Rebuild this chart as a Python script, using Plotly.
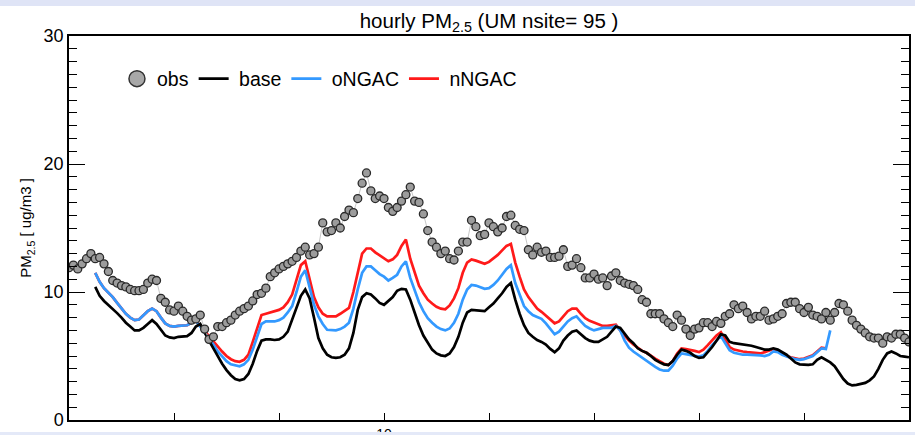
import plotly.graph_objects as go

# ---------------- data (hourly, hour 0 = day 7 00Z) ----------------
obs_start = 0
obs = [11.9, 12.1, 11.8, 12.2, 12.6, 13.0, 12.6, 12.7, 12.2, 11.6,
       10.9, 10.7, 10.5, 10.4, 10.2, 10.1, 10.1, 10.2, 10.7, 11.0,
       10.9, 9.5, 9.2, 8.6, 8.5, 8.9, 8.5, 8.1, 7.8, 7.9,
       8.2, 7.1, 6.3, 6.5, 7.3, 7.3, 7.6, 7.8, 8.2, 8.5,
       8.7, 8.9, 9.3, 9.8, 9.9, 10.3, 11.2, 11.5, 11.8, 12.0,
       12.2, 12.4, 12.7, 13.2, 13.5, 12.9, 13.0, 13.5, 15.4, 14.7,
       14.8, 15.4, 15.0, 15.9, 16.4, 16.2, 17.3, 18.5, 19.3, 17.9,
       17.3, 17.5, 17.3, 16.6, 16.3, 16.6, 17.1, 17.6, 18.2, 17.1,
       17.0, 16.1, 14.8, 13.9, 13.5, 13.0, 13.2, 12.6, 12.5, 13.2,
       13.9, 13.9, 15.6, 15.1, 14.4, 14.5, 15.4, 15.1, 14.7, 15.0,
       15.9, 16.0, 15.2, 14.9, 14.8, 13.3, 12.9, 13.5, 13.1, 13.2,
       12.7, 12.7, 12.8, 13.3, 12.0, 12.1, 12.6, 11.9, 11.1, 11.1,
       11.4, 11.0, 11.1, 10.5, 11.25, 11.5, 10.9, 10.7, 10.6, 10.5,
       10.2, 9.4, 9.2, 8.3, 8.3, 8.3, 7.9, 7.6, 7.3, 8.2,
       7.8, 7.1, 6.6, 7.1, 7.2, 7.6, 7.6, 7.3, 7.7, 7.55,
       8.1, 8.3, 9.0, 8.7, 8.9, 8.4, 7.9, 8.1, 8.1, 8.5,
       7.8, 7.9, 8.1, 8.3, 9.1, 9.2, 9.2, 8.7, 8.4, 8.8,
       8.2, 8.1, 7.9, 8.4, 7.8, 8.4, 9.1, 9.0, 8.5, 7.8,
       7.4, 7.1, 6.8, 6.5, 6.4, 6.4, 6.0, 6.5, 6.4, 6.7,
       6.7, 6.4, 6.1]

base_start = 6
base = [10.4, 9.7, 9.3, 9.0, 8.7, 8.35, 8.0, 7.6, 7.3, 7.0,
        7.0, 7.2, 7.5, 7.8, 7.5, 7.0, 6.6, 6.45, 6.4, 6.5,
        6.5, 6.55, 6.8, 7.3, 7.5, 6.8, 6.2, 5.6, 4.95, 4.4,
        3.9, 3.5, 3.2, 3.1, 3.2, 3.6, 4.4, 5.4, 6.2, 6.3,
        6.3, 6.25, 6.3, 6.5, 6.9, 7.8, 8.7, 9.7, 10.2, 9.5,
        8.0, 6.4, 5.6, 5.1, 4.9, 4.85, 4.9, 5.1, 5.6, 6.8,
        8.6, 9.6, 9.9, 9.8, 9.5, 9.15, 9.0, 9.3, 9.6, 10.1,
        10.25, 10.2, 9.4, 8.4, 7.4, 6.6, 6.0, 5.5, 5.2, 5.05,
        5.0, 5.2, 5.7, 6.5, 7.6, 8.4, 8.6, 8.55, 8.5, 8.5,
        8.8, 9.1, 9.5, 9.9, 10.4, 10.7, 9.4, 8.3, 7.4, 6.8,
        6.5, 6.25, 6.1, 5.9, 5.55, 5.3, 5.6, 6.2, 6.6, 6.9,
        7.0, 6.7, 6.4, 6.2, 6.1, 6.1, 6.3, 6.5, 6.9, 7.3,
        7.2, 6.7, 6.3, 6.0, 5.6, 5.4, 5.25, 5.0, 4.7, 4.5,
        4.35, 4.3, 4.6, 5.1, 5.5, 5.4, 5.25, 5.0, 4.85, 4.9,
        5.3, 5.7, 6.2, 6.7, 6.6, 6.1, 6.0, 5.95, 5.9, 5.9,
        5.8, 5.7, 5.6, 5.5, 5.5, 5.6, 5.5, 5.3, 5.1, 4.8,
        4.5, 4.35, 4.3, 4.3, 4.35, 4.7, 4.9, 4.7, 4.5, 4.2,
        3.7, 3.2, 2.85, 2.7, 2.75, 2.8, 2.9, 3.1, 3.4, 4.0,
        4.7, 5.2, 5.35, 5.2, 5.0, 4.95, 4.9]

ongac_start = 6
ongac = [11.5, 10.8, 10.3, 9.95, 9.6, 9.15, 8.75, 8.3, 8.0, 7.8,
         7.85, 8.15, 8.5, 8.7, 8.5, 8.0, 7.55, 7.35, 7.3, 7.35,
         7.35, 7.4, 7.6, 7.75, 7.3, 6.85, 6.4, 5.9, 5.35, 4.95,
         4.6, 4.35, 4.25, 4.2, 4.35, 4.7, 5.5, 6.5, 7.5, 7.7,
         7.7, 7.7, 7.8, 8.0, 8.4, 8.9, 10.0, 11.2, 11.7, 10.4,
         9.0, 8.1, 7.5, 7.05, 7.0, 7.0, 7.1, 7.3, 7.6, 8.7,
         10.2, 11.5, 12.0, 12.0, 11.7, 11.4, 11.2, 10.9, 11.1, 11.35,
         12.0, 12.4, 11.1, 10.2, 9.2, 8.5, 7.95, 7.6, 7.3, 7.1,
         7.0, 7.15, 7.6, 8.3, 9.4, 10.2, 10.55, 10.5, 10.4, 10.25,
         10.3, 10.55, 10.9, 11.35, 11.8, 12.1, 10.7, 9.8, 8.9, 8.5,
         8.2, 8.05, 7.9, 7.55, 7.1, 6.7, 6.9, 7.3, 7.7, 7.95,
         8.1, 7.7, 7.35, 7.15, 7.0, 7.1, 7.2, 7.2, 7.2, 7.35,
         7.0, 6.2, 5.65, 5.35, 5.1, 4.85, 4.6, 4.35, 4.15, 3.95,
         3.85, 3.85, 4.25, 4.8, 5.2, 5.15, 5.1, 5.0, 4.95, 5.05,
         5.4, 5.85, 6.2, 6.55, 6.0, 5.45, 5.25, 5.15, 5.1, 5.1,
         5.1, 5.1, 5.05, 5.0, 5.1, 5.35, 5.3, 5.1, 4.95, 4.85,
         4.75, 4.7, 4.75, 4.85, 5.0, 5.3, 5.6, 5.55, 7.0]

nngac_start = 6
nngac = [11.5, 10.8, 10.3, 9.95, 9.6, 9.15, 8.75, 8.3, 8.0, 7.8,
         7.85, 8.15, 8.5, 8.7, 8.5, 8.0, 7.55, 7.35, 7.3, 7.35,
         7.35, 7.4, 7.6, 7.75, 7.35, 6.95, 6.5, 6.1, 5.7, 5.35,
         5.0, 4.75, 4.6, 4.55, 4.7, 5.1, 6.1, 7.2, 8.2, 8.3,
         8.4, 8.5, 8.6, 8.8, 9.2, 9.8, 11.0, 12.1, 12.4, 11.0,
         9.6, 8.8, 8.3, 8.1, 8.1, 8.1, 8.3, 8.5, 8.75, 10.0,
         11.5, 13.0, 13.4, 13.4, 13.1, 12.85, 12.6, 12.4, 12.55, 12.9,
         13.6, 14.1, 12.6, 11.6, 10.5, 9.9, 9.4, 9.1, 8.85, 8.7,
         8.65, 8.95, 9.5, 10.3, 11.5, 12.3, 12.55, 12.45, 12.3, 12.2,
         12.35, 12.6, 12.9, 13.25, 13.6, 13.75, 12.3, 11.2, 10.2, 9.6,
         9.1, 8.7, 8.45, 8.15, 7.8, 7.55, 7.7, 8.1, 8.5, 8.7,
         8.7, 8.3, 7.95, 7.75, 7.6, 7.45, 7.35, 7.35, 7.4, 7.45,
         7.0, 6.6, 6.2, 5.9, 5.65, 5.4, 5.25, 5.0, 4.8, 4.6,
         4.4, 4.3, 4.6, 5.2, 5.6, 5.55, 5.5, 5.4, 5.3, 5.5,
         5.85, 6.25, 6.6, 6.85, 6.3, 5.7, 5.5, 5.4, 5.35, 5.3,
         5.25, 5.2, 5.2, 5.3, 5.45, 5.55, 5.4, 5.2, 5.0, 4.9,
         4.8, 4.75, 4.8, 4.9, 5.05, 5.35, 5.65, 5.6]

day_ticks = [0, 24, 48, 72, 96, 120, 144, 168, 192]
day_labels = ["", "", "", "10", "", "", "", "", ""]

FONT = "Liberation Sans, Arial, Helvetica, sans-serif"
NB = "\u00a0"


def hours(start, vals):
    return list(range(start, start + len(vals)))


fig = go.Figure()

fig.add_trace(go.Scatter(x=hours(nngac_start, nngac), y=nngac, mode="lines", name=NB + "nNGAC",
                         line=dict(color="#ff1a1a", width=2.7), legendrank=4))
fig.add_trace(go.Scatter(x=hours(ongac_start, ongac), y=ongac, mode="lines", name=NB + "oNGAC",
                         line=dict(color="#3399ff", width=2.7), legendrank=3))
fig.add_trace(go.Scatter(x=hours(base_start, base), y=base, mode="lines", name=NB + "base",
                         line=dict(color="black", width=2.7), legendrank=2))
fig.add_trace(go.Scatter(x=hours(obs_start, obs), y=obs, mode="lines+markers", name="obs",
                         showlegend=False,
                         line=dict(color="#c8c8c8", width=1),
                         marker=dict(size=8, color="#9c9c9c",
                                     line=dict(color="#2a2a2a", width=1.3))))
# legend-only entry for obs (larger symbol, as in the reference legend)
fig.add_trace(go.Scatter(x=[None], y=[None], mode="markers", name="obs",
                         marker=dict(size=16, color="#a8a8a8",
                                     line=dict(color="#333333", width=1.5)),
                         legendrank=1))

fig.update_layout(
    width=915, height=435,
    margin=dict(l=69, r=6, t=36, b=15, autoexpand=False),
    paper_bgcolor="white", plot_bgcolor="white",
    font=dict(family=FONT, color="black"),
    title=dict(text="hourly PM<sub>2.5</sub> (UM nsite= 95 )",
               x=489 / 915, xanchor="center", y=1 - 21 / 435, yanchor="middle",
               font=dict(size=20.5, family=FONT, color="black")),
    showlegend=True,
    legend=dict(orientation="h", x=0.0571, xanchor="left", y=0.888, yanchor="middle",
                bgcolor="rgba(0,0,0,0)", font=dict(size=19.5, family=FONT),
                itemwidth=30, tracegroupgap=0),
    xaxis=dict(range=[0, 192], tickvals=day_ticks, ticktext=day_labels,
               ticks="inside", ticklen=7, tickwidth=1.3, tickcolor="black",
               showline=True, linecolor="black", linewidth=1.5, mirror=True,
               showgrid=False, zeroline=False, automargin=False,
               tickfont=dict(size=14, family=FONT)),
    yaxis=dict(range=[0, 30], tickvals=[0, 10, 20, 30],
               ticks="inside", ticklen=16, tickwidth=1.3, tickcolor="black",
               minor=dict(ticks="inside", ticklen=8, dtick=1, tickwidth=1.2,
                          tickcolor="black", showgrid=False),
               showline=True, linecolor="black", linewidth=1.5, mirror="ticks",
               showgrid=False, zeroline=False, automargin=False,
               tickfont=dict(size=18, family=FONT),
               title=dict(text="PM<sub>2.5</sub> [ ug/m3 ]", standoff=8,
                          font=dict(size=15, family=FONT))),
    shapes=[
        dict(type="rect", xref="paper", yref="paper", x0=-0.09, x1=1.01,
             y0=1.078, y1=1.1, fillcolor="#dfe4f6", line=dict(width=0), layer="above"),
        dict(type="rect", xref="paper", yref="paper", x0=-0.09, x1=1.01,
             y0=-0.045, y1=-0.031, fillcolor="#e4e9f8", line=dict(width=0), layer="above"),
    ],
)

fig.write_html("out.html", config={"displayModeBar": False},
               post_script="document.body.style.margin='0';document.body.style.padding='0';")
